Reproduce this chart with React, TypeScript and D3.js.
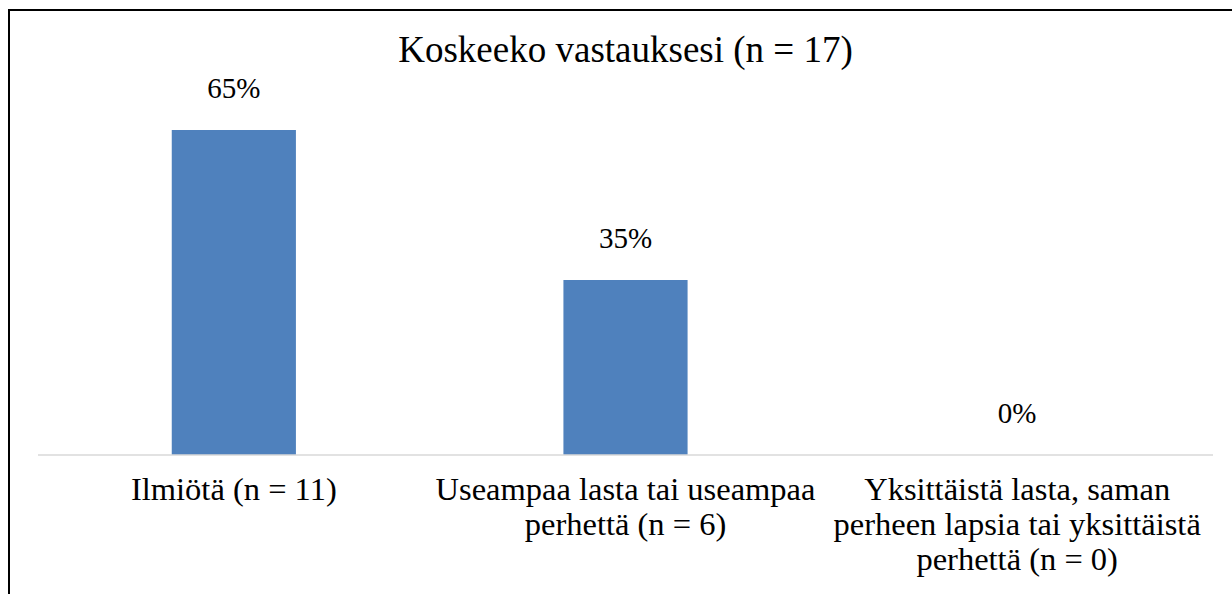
import * as d3 from 'd3';

// chart data
const categories = [
  ['Ilmiötä (n = 11)'],
  ['Useampaa lasta tai useampaa', 'perhettä (n = 6)'],
  ['Yksittäistä lasta, saman', 'perheen lapsia tai yksittäistä', 'perhettä (n = 0)'],
];
const values = [65, 35, 0];
const valueLabels = ['65%', '35%', '0%'];
const title = 'Koskeeko vastauksesi (n = 17)';

const width = 1232;
const height = 594;
const margin = { left: 38, right: 19, top: 105, base: 455 };
const font = 'Liberation Serif';
// large serif sizes fall back to a sans face here, so draw at 24px and scale up
const baseSize = 24;

const Label = ({ x, y, size, lines, gap = 0 }: { x: number; y: number; size: number; lines: string[]; gap?: number }) => {
  const k = size / baseSize;
  return (
    <g transform={`translate(${x},${y}) scale(${k})`}>
      <text textAnchor="middle" fill="#000" style={{ fontFamily: font, fontSize: baseSize }}>
        {lines.map((t, j) => (
          <tspan key={j} x={0} dy={j === 0 ? 0 : gap / k}>{t}</tspan>
        ))}
      </text>
    </g>
  );
};

const App = () => {
  // scales
  const x = d3.scaleBand<number>()
    .domain(values.map((_, i) => i))
    .range([margin.left, width - margin.right])
    .padding(0);
  const y = d3.scaleLinear()
    .domain([0, 70])
    .range([margin.base, margin.top]);
  const barWidth = x.bandwidth() * 0.317;
  const cx = (i: number) => x(i)! + x.bandwidth() / 2;

  return (
    <div style={{ position: 'absolute', left: 0, top: 0 }}>
      <svg width={width} height={height} style={{ display: 'block' }}>
        {/* outer frame, runs off right and bottom */}
        <line x1={9} x2={9} y1={9} y2={height} stroke="#000" strokeWidth={2} />
        <line x1={8} x2={width} y1={10} y2={10} stroke="#000" strokeWidth={2} />

        <Label x={(margin.left + width - margin.right) / 2} y={62} size={37} lines={[title]} />

        {values.map((d, i) => (
          <rect key={i} x={cx(i) - barWidth / 2} y={y(d)} width={barWidth}
            height={y(0) - y(d)} fill="#4F81BD" />
        ))}

        {values.map((d, i) => (
          <Label key={i} x={cx(i)} y={y(d) - 32} size={29} lines={[valueLabels[i]]} />
        ))}

        <line x1={margin.left} x2={width - margin.right} y1={y(0)} y2={y(0)}
          stroke="#D9D9D9" strokeWidth={1.5} />

        {categories.map((lines, i) => (
          <Label key={i} x={cx(i)} y={500} size={32.5} lines={lines} gap={35} />
        ))}
      </svg>
    </div>
  );
};

export default App;
